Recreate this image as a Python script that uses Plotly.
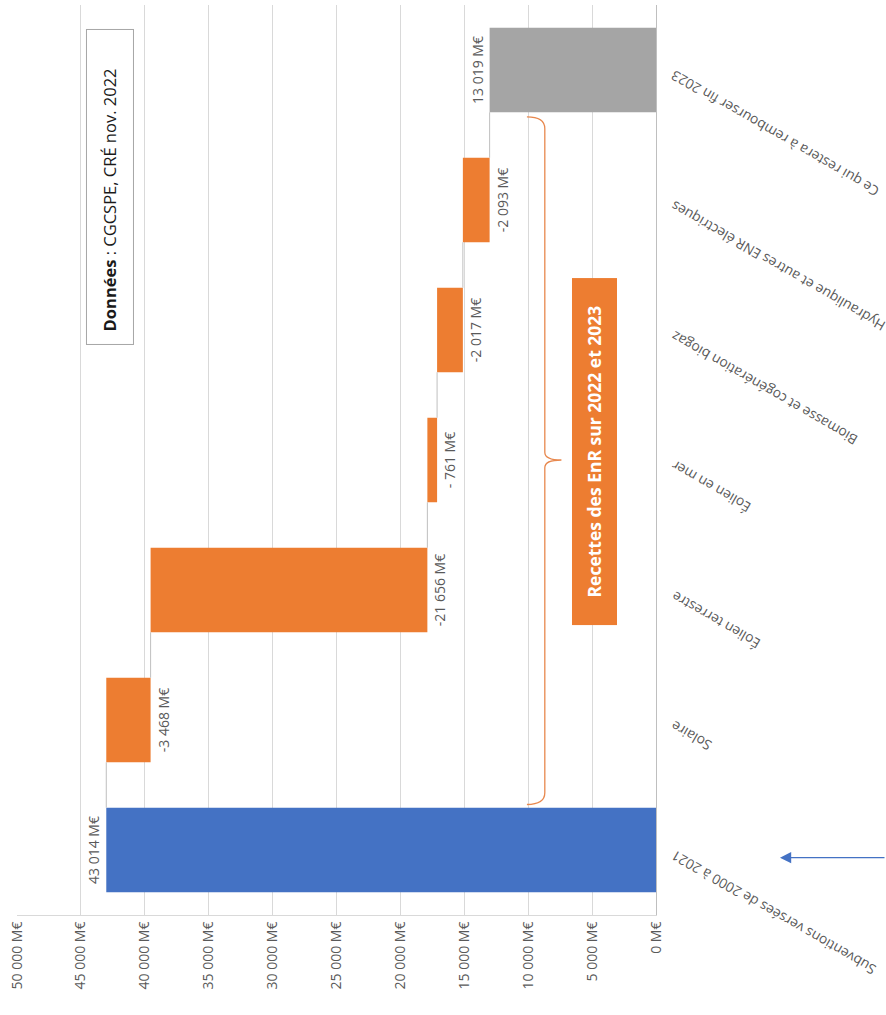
import numpy as np
import plotly.graph_objects as go


# ---------------------------------------
# DATA
# ---------------------------------------
categories = [
    "Subventions versées de 2000 à 2021",
    "Solaire",
    "Éolien terrestre",
    "Éolien en mer",
    "Biomasse et cogénération biogaz",
    "Hydraulique et autres ENR électriques",
    "Ce qui restera à rembourser fin 2023",
]
values = [43014, -3468, -21656, -761, -2017, -2093, 13019]
measures = ["total", "delta", "delta", "delta", "delta", "delta", "total"]
bar_colors = ["#4472C4", "#ED7D31", "#ED7D31", "#ED7D31", "#ED7D31", "#ED7D31", "#A5A5A5"]

tick_values = [0, 5000, 10000, 15000, 20000, 25000, 30000, 35000, 40000, 45000, 50000]
tick_labels = ["0 M€", "5 000 M€", "10 000 M€", "15 000 M€", "20 000 M€", "25 000 M€",
               "30 000 M€", "35 000 M€", "40 000 M€", "45 000 M€", "50 000 M€"]

source_text = "<b>Données</b> : CGCSPE, CRÉ nov. 2022"
bracket_text = "<b>Recettes des EnR sur 2022 et 2023</b>"

FONT = "Open Sans"
GREY_TXT = "#595959"
BAR_W = 0.65


def fmt(v):
    # excel-like "# ##0 M€"
    s = f"{abs(v):,}".replace(",", " ")
    if v < 0:
        return ("- " if abs(v) < 1000 else "-") + s + " M€"
    return s + " M€"


# waterfall bases
bases, lengths, levels = [], [], []
running = 0
for v, m in zip(values, measures):
    if m == "total":
        bases.append(0)
        lengths.append(v)
        running = v
    else:
        bases.append(running)
        lengths.append(v)
        running += v
    levels.append(running)

ypos = np.arange(len(categories))

fig = go.Figure()

# connectors
cx, cy = [], []
for i in range(len(categories) - 1):
    cx += [levels[i], levels[i], None]
    cy += [ypos[i] + BAR_W / 2, ypos[i + 1] - BAR_W / 2, None]
fig.add_trace(go.Scatter(
    x=cx, y=cy, mode="lines",
    line=dict(color="#bfbfbf", width=1),
    hoverinfo="skip", showlegend=False
))

fig.add_trace(go.Bar(
    y=ypos,
    x=lengths,
    base=bases,
    orientation="h",
    width=BAR_W,
    marker=dict(color=bar_colors, line=dict(width=0)),
    text=[fmt(v) for v in values],
    textposition="outside",
    textangle=-90,
    textfont=dict(family=FONT, size=14, color=GREY_TXT),
    constraintext="none",
    cliponaxis=False,
    hovertemplate="%{customdata}<extra></extra>",
    customdata=categories,
    showlegend=False
))

# category labels (rotated like the photo)
for i, cat in enumerate(categories):
    fig.add_annotation(
        x=1, xref="paper", y=ypos[i], yref="y",
        text=cat, textangle=-150, showarrow=False,
        xanchor="left", yanchor="top", xshift=9, yshift=6,
        font=dict(family=FONT, size=13.8, color=GREY_TXT)
    )

# source box
fig.add_annotation(
    x=0.1455, y=0.80, xref="paper", yref="paper",
    xanchor="center", yanchor="middle",
    text="\u00a0\u00a0" + source_text, textangle=-90, showarrow=False,
    width=306, height=38, align="left", valign="middle",
    bordercolor="#a6a6a6", borderwidth=1, borderpad=4, bgcolor="white",
    font=dict(family=FONT, size=16.5, color="#1a1a1a")
)

# orange box
fig.add_annotation(
    x=0.9038, y=0.5093, xref="paper", yref="paper",
    xanchor="center", yanchor="middle",
    text=bracket_text, textangle=-90, showarrow=False,
    width=341, height=39, align="center", valign="middle",
    borderwidth=0, borderpad=3, bgcolor="#ED7D31",
    font=dict(family=FONT, size=17.5, color="white")
)

# brace
fig.add_shape(
    type="path", xref="x", yref="y",
    path="M 10100,5.64 Q 8700,5.64 8700,5.55 L 8700,3.06 Q 8700,3.0 7400,3.0 "
         "Q 8700,3.0 8700,2.94 L 8700,0.44 Q 8700,0.35 10100,0.35",
    line=dict(color="#E8884E", width=1.3)
)

# blue arrow
fig.add_annotation(
    x=1.194, y=0.063, xref="paper", yref="paper",
    text="", showarrow=True, ax=115, ay=0,
    arrowhead=2, arrowsize=1.6, arrowwidth=1.4, arrowcolor="#4472C4"
)

fig.update_layout(
    width=886, height=1015,
    margin=dict(l=17, r=230, t=5, b=100),
    plot_bgcolor="white",
    paper_bgcolor="white",
    font=dict(family=FONT, color=GREY_TXT),
    bargap=0.35,
    xaxis=dict(
        range=[50000, 0],
        tickvals=tick_values, ticktext=tick_labels,
        tickangle=-90, tickfont=dict(size=14, color=GREY_TXT),
        showgrid=True, gridcolor="#d9d9d9", gridwidth=1,
        zeroline=False, showline=True, linecolor="#d9d9d9",
        ticks="", fixedrange=True
    ),
    yaxis=dict(
        range=[-0.5, 6.5], side="right",
        showticklabels=False, showgrid=False, zeroline=False,
        showline=True, linecolor="#bfbfbf", ticks="", fixedrange=True
    ),
)

fig.write_html("out.html", config={"displayModeBar": False},
               post_script="document.body.style.margin='0';")
